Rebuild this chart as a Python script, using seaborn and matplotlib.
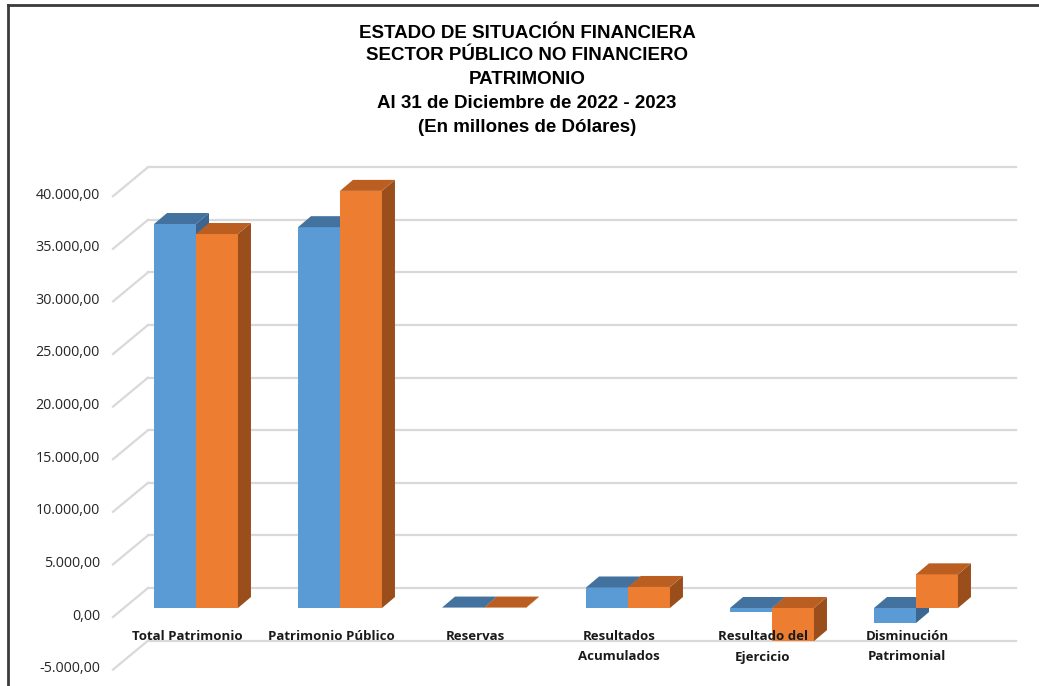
import pandas as pd
import matplotlib.pyplot as plt
import seaborn as sns
from matplotlib.patches import Polygon
from matplotlib.lines import Line2D
from matplotlib.transforms import IdentityTransform

# --- datos (millones de dolares) ---
categorias = ["Total Patrimonio", "Patrimonio Público", "Reservas",
              "Resultados\nAcumulados", "Resultado del\nEjercicio",
              "Disminución\nPatrimonial"]
anios = ["2022", "2023"]
valores_2022 = [36500, 36200, 40, 1950, -400, -1430]
valores_2023 = [35550, 39650, 40, 2000, -3150, 3200]
ticks_y = [-5000, 0, 5000, 10000, 15000, 20000, 25000, 30000, 35000, 40000]

titulo = ["ESTADO DE SITUACIÓN FINANCIERA",
          "SECTOR PÚBLICO NO FINANCIERO",
          "PATRIMONIO",
          "Al 31 de Diciembre de 2022 - 2023",
          "(En millones de Dólares)"]

# colores estilo Excel 3D: frente, tapa, lado
colores = {"2022": ("#5B9BD5", "#44729F", "#3C6590"),
           "2023": ("#ED7D31", "#BA5E22", "#9A4E1C")}

df = pd.DataFrame({
    "categoria": categorias * 2,
    "anio": [anios[0]] * len(categorias) + [anios[1]] * len(categorias),
    "valor": valores_2022 + valores_2023,
})

W, H = 1039, 686
fig = plt.figure(figsize=(W / 100, H / 100), dpi=100)
fig.patch.set_facecolor("white")

# plano frontal de las barras en pixeles (imagen): x 124..988, 0 -> y 608
px_por_unidad = 0.01052
y_cero = 608
y_bot = y_cero + 5000 * px_por_unidad
y_top = y_cero - 40000 * px_por_unidad
ax = fig.add_axes([124 / W, (H - y_bot) / H, 864 / W, (y_bot - y_top) / H])

sns.barplot(data=df, x="categoria", y="valor", hue="anio", order=categorias,
            palette=[colores[a][0] for a in anios], width=0.583, gap=0,
            saturation=1, linewidth=0, legend=False, ax=ax, zorder=2)
ax.set_xlim(-0.5, 5.5)
ax.set_ylim(-5000, 40000)
ax.set_xlabel("")
ax.set_ylabel("")
ax.set_xticks([])
ax.set_yticks([])
for s in ax.spines.values():
    s.set_visible(False)
ax.patch.set_alpha(0)

fig.canvas.draw()
ident = IdentityTransform()

# desplazamientos oblicuos (pixeles, y hacia arriba)
prof_dx, prof_dy = 13, 11          # profundidad de cada barra
pared_dx, pared_dy = 24, 20        # pared del fondo respecto a las barras
frente_dx, frente_dy = -11, -9     # plano de etiquetas respecto a las barras

x_izq = ax.transData.transform((-0.5, 0))[0]
x_der = ax.transData.transform((5.5, 0))[0]

# rejilla en la pared del fondo y lineas laterales
for v in ticks_y:
    yb = ax.transData.transform((0, v))[1]
    ax.add_line(Line2D([x_izq + pared_dx, x_der + pared_dx + 4], [yb + pared_dy] * 2,
                       transform=ident, color="#D9D9D9", lw=1.6, zorder=0, clip_on=False))
    ax.add_line(Line2D([x_izq + frente_dx, x_izq + pared_dx], [yb + frente_dy, yb + pared_dy],
                       transform=ident, color="#D9D9D9", lw=1.6, zorder=0, clip_on=False))
    etiqueta = f"{v:,.2f}".replace(",", "X").replace(".", ",").replace("X", ".")
    ax.text(100, yb + frente_dy + 1, etiqueta, transform=ident, ha="right", va="center",
            fontsize=10.3, family=["Open Sans", "DejaVu Sans"], color="#262626")

# caras superior y lateral de cada barra
for p in list(ax.patches):
    bb = p.get_window_extent()
    x0, x1, y0, y1 = bb.x0, bb.x1, bb.y0, bb.y1
    fc = p.get_facecolor()
    anio = "2022" if fc[2] > fc[0] else "2023"
    _, c_tapa, c_lado = colores[anio]
    z = 2 if anio == "2022" else 3
    p.set_zorder(z)
    tapa = [(x0, y1), (x1, y1), (x1 + prof_dx, y1 + prof_dy), (x0 + prof_dx, y1 + prof_dy)]
    lado = [(x1, y0), (x1 + prof_dx, y0 + prof_dy), (x1 + prof_dx, y1 + prof_dy), (x1, y1)]
    ax.add_patch(Polygon(lado, closed=True, transform=ident, facecolor=c_lado,
                         edgecolor="none", zorder=z, clip_on=False))
    ax.add_patch(Polygon(tapa, closed=True, transform=ident, facecolor=c_tapa,
                         edgecolor="none", zorder=z, clip_on=False))

# etiquetas de categorias en el plano frontal
for i, cat in enumerate(categorias):
    xc, yc = ax.transData.transform((i, 0))
    ax.text(xc + frente_dx + 2, yc - 22, cat, transform=ident, ha="center", va="top",
            fontsize=9.5, fontweight="bold", linespacing=1.75,
            family=["Open Sans", "DejaVu Sans"], color="#1a1a1a")

# titulo
for linea, yp in zip(titulo, [33, 56, 79, 103, 127]):
    fig.text(527 / W, 1 - yp / H, linea, ha="center", va="center", fontsize=13.5,
             fontweight="bold", family=["Liberation Sans", "DejaVu Sans"], color="black")

# marco del grafico
fig.add_artist(Line2D([8 / W, 1], [1 - 5 / H] * 2, transform=fig.transFigure,
                      color="#3b3b3b", lw=2))
fig.add_artist(Line2D([8 / W] * 2, [0, 1 - 5 / H], transform=fig.transFigure,
                      color="#3b3b3b", lw=2))

fig.savefig("out.png", dpi=100)
plt.close(fig)
